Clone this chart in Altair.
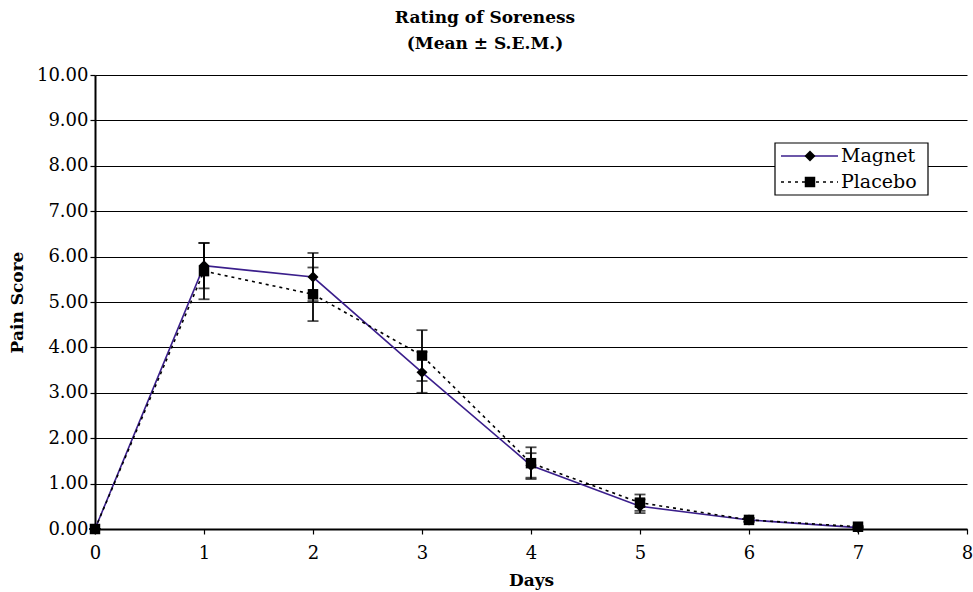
import altair as alt
import pandas as pd

days = [0, 1, 2, 3, 4, 5, 6, 7]
series_names = ["Magnet", "Placebo"]
magnet_mean = [0.00, 5.80, 5.55, 3.45, 1.40, 0.50, 0.20, 0.03]
magnet_sem = [0.00, 0.50, 0.53, 0.45, 0.27, 0.15, 0.04, 0.02]
placebo_mean = [0.00, 5.68, 5.17, 3.82, 1.45, 0.58, 0.20, 0.05]
placebo_sem = [0.00, 0.62, 0.59, 0.56, 0.35, 0.18, 0.04, 0.02]
x_ticks = [0, 1, 2, 3, 4, 5, 6, 7, 8]
y_ticks = [0, 1, 2, 3, 4, 5, 6, 7, 8, 9, 10]
title_lines = ["Rating of Soreness", "(Mean ± S.E.M.)"]

rows = []
for name, means, sems in [("Magnet", magnet_mean, magnet_sem), ("Placebo", placebo_mean, placebo_sem)]:
    for d, m, s in zip(days, means, sems):
        rows.append({"day": d, "series": name, "value": m, "sem": s})
df = pd.DataFrame(rows)

FONT = "DejaVu Serif"
PURPLE = "#3B1F8C"

xenc = alt.X("day:Q", scale=alt.Scale(domain=[0, 8], nice=False),
             axis=alt.Axis(values=x_ticks, title="Days", grid=False, format="d",
                           titleY=43, labelPadding=10, labelFlush=False))
yaxis = alt.Axis(values=y_ticks, format=".2f", title="Pain Score", grid=True,
                 titleX=-69, labelPadding=2, labelFlush=False)
yscale = alt.Scale(domain=[0, 10], nice=False)

base = alt.Chart(df).transform_calculate(
    lo="datum.value - datum.sem", hi="datum.value + datum.sem")


def series_layers(name, line_color, dash, shape, size):
    b = base.transform_filter(alt.datum.series == name)
    err = b.mark_rule(color="black", strokeWidth=1.8).encode(
        x=xenc, y=alt.Y("lo:Q", scale=yscale, axis=yaxis), y2="hi:Q")
    cap_lo = b.mark_tick(orient="horizontal", size=11, thickness=1.8, color="black").encode(
        x=xenc, y=alt.Y("lo:Q", scale=yscale, axis=yaxis))
    cap_hi = b.mark_tick(orient="horizontal", size=11, thickness=1.8, color="black").encode(
        x=xenc, y=alt.Y("hi:Q", scale=yscale, axis=yaxis))
    line_kw = dict(color=line_color, strokeWidth=1.6)
    if dash:
        line_kw["strokeDash"] = dash
    line = b.mark_line(**line_kw).encode(
        x=xenc, y=alt.Y("value:Q", scale=yscale, axis=yaxis))
    pts = b.mark_point(shape=shape, filled=True, color="black", size=size, opacity=1).encode(
        x=xenc, y=alt.Y("value:Q", scale=yscale, axis=yaxis))
    return [err, cap_lo, cap_hi, line, pts]


layers = []
layers += series_layers("Magnet", PURPLE, None, "diamond", 120)
layers += series_layers("Placebo", "black", [3, 4], "square", 110)

# legend
leg = alt.Chart(pd.DataFrame({"series": series_names}))
leg_box = leg.transform_filter(alt.datum.series == "Magnet").mark_rect(
    fill="white", stroke="black", strokeWidth=1.2).encode(
    x=alt.value(680), x2=alt.value(833), y=alt.value(68), y2=alt.value(120))
leg_l1 = leg.transform_filter(alt.datum.series == "Magnet").mark_rule(
    color=PURPLE, strokeWidth=1.6).encode(
    x=alt.value(686), x2=alt.value(743), y=alt.value(81))
leg_p1 = leg.transform_filter(alt.datum.series == "Magnet").mark_point(
    shape="diamond", filled=True, color="black", size=120, opacity=1).encode(
    x=alt.value(715), y=alt.value(81))
leg_t1 = leg.transform_filter(alt.datum.series == "Magnet").mark_text(
    align="left", baseline="middle", font=FONT, fontSize=19, color="black").encode(
    x=alt.value(746), y=alt.value(81), text="series:N")
leg_l2 = leg.transform_filter(alt.datum.series == "Placebo").mark_rule(
    color="black", strokeWidth=1.6, strokeDash=[3, 4]).encode(
    x=alt.value(686), x2=alt.value(743), y=alt.value(107))
leg_p2 = leg.transform_filter(alt.datum.series == "Placebo").mark_point(
    shape="square", filled=True, color="black", size=110, opacity=1).encode(
    x=alt.value(715), y=alt.value(107))
leg_t2 = leg.transform_filter(alt.datum.series == "Placebo").mark_text(
    align="left", baseline="middle", font=FONT, fontSize=19, color="black").encode(
    x=alt.value(746), y=alt.value(107), text="series:N")

layers += [leg_box, leg_l1, leg_p1, leg_t1, leg_l2, leg_p2, leg_t2]

chart = alt.layer(*layers).properties(
    width=872, height=454,
    background="white",
    autosize=alt.AutoSizeParams(type="none"),
    padding={"left": 95, "top": 75, "right": 6, "bottom": 63},
    title=alt.TitleParams(title_lines, font=FONT, fontSize=17, fontWeight="bold",
                          color="black", anchor="middle", offset=13, lineHeight=26, dx=-46),
).configure_view(stroke=None).configure_title(
    font=FONT, fontSize=17, fontWeight="bold", color="black",
).configure_axis(
    labelFont=FONT, labelFontSize=18, labelColor="black",
    titleFont=FONT, titleFontSize=17, titleFontWeight="bold", titleColor="black",
    domainColor="black", domainWidth=2, tickColor="black", tickSize=5, tickWidth=1.2,
    gridColor="black", gridWidth=1.2, gridOpacity=1,
)

chart.save("out.html", embed_options={"renderer": "svg", "actions": False})
